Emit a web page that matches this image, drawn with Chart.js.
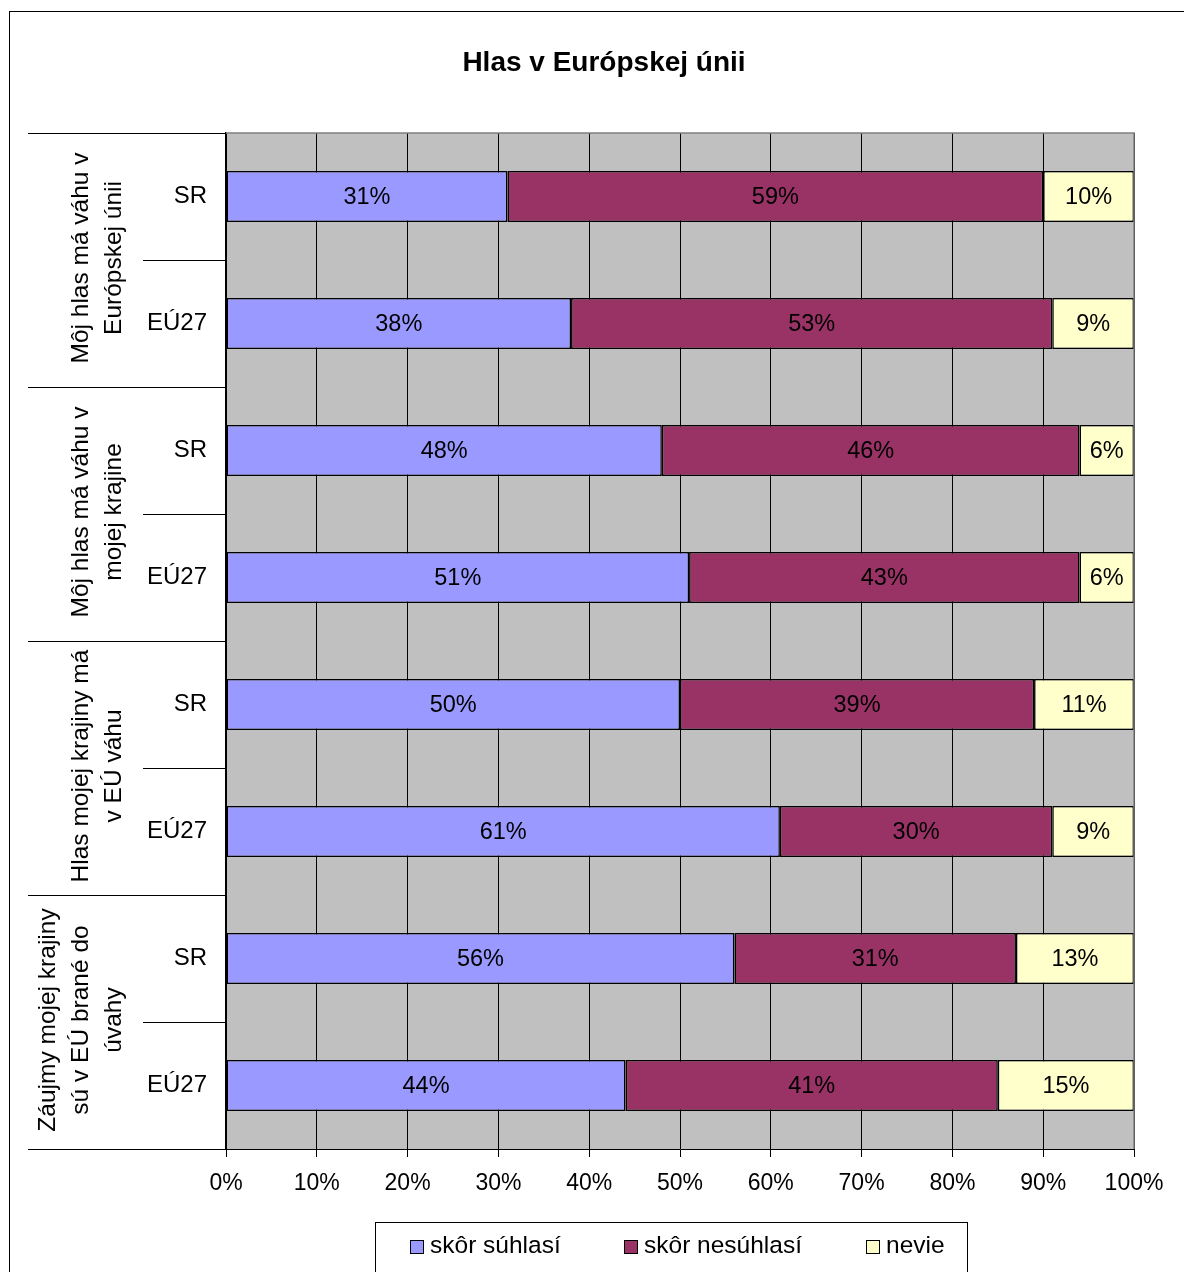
<!DOCTYPE html>
<html>
<head>
<meta charset="utf-8">
<script src="https://cdn.jsdelivr.net/npm/chart.js@4"></script>
<style>
  body { margin: 0; background: #fff; }
  #wrap { width: 1184px; height: 1272px; }
</style>
</head>
<body>
<div id="wrap"><canvas id="chart" width="1184" height="1272"></canvas></div>
<script>
const chartTitle = 'Hlas v Európskej únii';
const categories = ['SR', 'EÚ27', 'SR', 'EÚ27', 'SR', 'EÚ27', 'SR', 'EÚ27'];
const groupLabels = [
    ['Môj hlas má váhu v', 'Európskej únii'],
    ['Môj hlas má váhu v', 'mojej krajine'],
    ['Hlas mojej krajiny má', 'v EÚ váhu'],
    ['Záujmy mojej krajiny', 'sú v EÚ brané do', 'úvahy']
];
const seriesNames = ['skôr súhlasí', 'skôr nesúhlasí', 'nevie'];
const agree = [31, 38, 48, 51, 50, 61, 56, 44];
const disagree = [59, 53, 46, 43, 39, 30, 31, 41];
const dontKnow = [10, 9, 6, 6, 11, 9, 13, 15];
const xTicks = [0, 10, 20, 30, 40, 50, 60, 70, 80, 90, 100];
const colors = ['#9999FF', '#993366', '#FFFFCC'];

const FONT = "'Liberation Sans', Arial, sans-serif";
Chart.defaults.font.family = FONT;
Chart.defaults.color = '#000';

const plotBg = {
    id: 'plotBg',
    beforeDraw(chart) {
        const { ctx, chartArea: a } = chart;
        ctx.save();
        ctx.fillStyle = '#C0C0C0';
        ctx.fillRect(a.left, a.top, a.right - a.left, a.bottom - a.top);
        ctx.restore();
    }
};

const decorations = {
    id: 'decorations',
    afterDraw(chart) {
        const { ctx, chartArea: a } = chart;
        const y = chart.scales.y;
        ctx.save();

        // title
        ctx.fillStyle = '#000';
        ctx.font = 'bold 28px ' + FONT;
        ctx.textAlign = 'center';
        ctx.textBaseline = 'middle';
        ctx.fillText(chartTitle, 604, 63);

        // plot border
        ctx.strokeStyle = '#808080';
        ctx.lineWidth = 1.5;
        ctx.beginPath();
        ctx.moveTo(a.left, a.top);
        ctx.lineTo(a.right, a.top);
        ctx.lineTo(a.right, a.bottom);
        ctx.stroke();

        // segment labels
        ctx.font = '23.5px ' + FONT;
        chart.data.datasets.forEach((ds, di) => {
            chart.getDatasetMeta(di).data.forEach((bar, i) => {
                const left = Math.min(bar.x, bar.base);
                const right = Math.max(bar.x, bar.base);
                ctx.fillText(ds.data[i] + '%', (left + right) / 2, bar.y + 1);
            });
        });

        // category separators on the left
        const step = (y.getPixelForValue(1) - y.getPixelForValue(0));
        ctx.strokeStyle = '#000';
        ctx.lineWidth = 1;
        for (let i = 0; i <= categories.length; i++) {
            const py = Math.round(y.getPixelForValue(i) - step / 2) + 0.5;
            ctx.beginPath();
            ctx.moveTo(i % 2 === 0 ? 28 : 143, py);
            ctx.lineTo(a.left, py);
            ctx.stroke();
        }

        // group labels, rotated
        ctx.font = '24.5px ' + FONT;
        groupLabels.forEach((lines, g) => {
            const cy = (y.getPixelForValue(g * 2) + y.getPixelForValue(g * 2 + 1)) / 2 - 2;
            lines.forEach((txt, li) => {
                const cx = 114 - (lines.length - 1 - li) * 33;
                ctx.save();
                ctx.translate(cx, cy);
                ctx.rotate(-Math.PI / 2);
                ctx.fillText(txt, 0, 0);
                ctx.restore();
            });
        });

        // legend
        ctx.strokeStyle = '#000';
        ctx.lineWidth = 1;
        ctx.strokeRect(375.5, 1222.5, 592, 80);
        const legendX = [410, 624, 866];
        ctx.textAlign = 'left';
        ctx.font = '24.5px ' + FONT;
        chart.data.datasets.forEach((ds, di) => {
            ctx.fillStyle = ds.backgroundColor;
            ctx.fillRect(legendX[di] + 0.5, 1240.5, 13, 13);
            ctx.strokeRect(legendX[di] + 0.5, 1240.5, 13, 13);
            ctx.fillStyle = '#000';
            ctx.fillText(ds.label, legendX[di] + 20, 1246);
        });

        // outer frame
        ctx.strokeRect(9.5, 11.5, 1300, 1400);
        ctx.restore();
    }
};

new Chart(document.getElementById('chart'), {
    type: 'bar',
    data: {
        labels: categories,
        datasets: [agree, disagree, dontKnow].map((d, i) => ({
            label: seriesNames[i],
            data: d,
            backgroundColor: colors[i],
            borderColor: '#000',
            borderWidth: 1.5,
            borderSkipped: false,
            barPercentage: 0.4,
            categoryPercentage: 1
        }))
    },
    options: {
        indexAxis: 'y',
        responsive: false,
        animation: false,
        devicePixelRatio: 1,
        layout: { padding: { left: 0, right: 50, top: 133, bottom: 0 } },
        plugins: {
            legend: { display: false },
            tooltip: { enabled: false },
            title: { display: false }
        },
        scales: {
            x: {
                stacked: true,
                min: 0,
                max: 100,
                afterBuildTicks: (s) => { s.ticks = xTicks.map(v => ({ value: v })); },
                afterFit: (s) => { s.height = 123; },
                grid: { color: '#000', lineWidth: 1, tickLength: 8 },
                border: { color: '#000', width: 1 },
                ticks: {
                    padding: 13,
                    font: { size: 23 },
                    color: '#000',
                    callback: (v) => v + '%'
                }
            },
            y: {
                stacked: true,
                afterFit: (s) => { s.width = 226; },
                grid: { display: false, drawTicks: false },
                border: { color: '#000', width: 1.5 },
                ticks: { padding: 19, font: { size: 24 }, color: '#000' }
            }
        }
    },
    plugins: [plotBg, decorations]
});
</script>
</body>
</html>
